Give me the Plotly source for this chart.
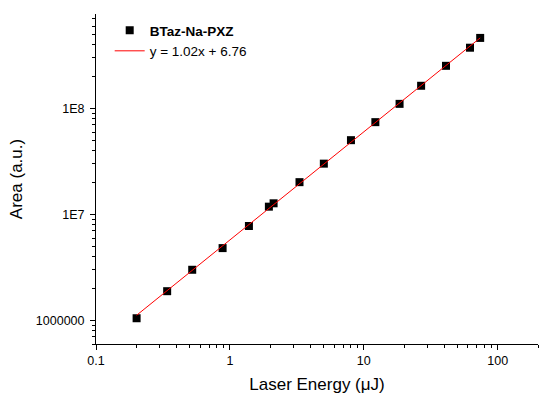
import plotly.graph_objects as go
import numpy as np

# Data
energy_uJ = [0.201, 0.34, 0.523, 0.882, 1.387, 1.955, 2.12, 3.31, 5.03, 8.02,
             12.2, 18.5, 26.8, 41.1, 62.1, 74.0]
area_au = [1.05e6, 1.89e6, 3.01e6, 4.82e6, 7.79e6, 1.186e7, 1.276e7, 2.02e7,
           3.02e7, 5.03e7, 7.44e7, 1.107e8, 1.64e8, 2.53e8, 3.75e8, 4.64e8]

series_name = "BTaz-Na-PXZ"
fit_slope = 1.02
fit_intercept = 6.76
fit_label = "y = 1.02x + 6.76"

x_tick_vals = [0.1, 1, 10, 100]
x_tick_text = ["0.1", "1", "10", "100"]
y_tick_vals = [1e6, 1e7, 1e8]
y_tick_text = ["1000000", "1E7", "1E8"]

# fit line in log-log space between first and last data points
fit_x = np.logspace(np.log10(min(energy_uJ)), np.log10(max(energy_uJ)), 50)
fit_y = 10 ** (fit_slope * np.log10(fit_x) + fit_intercept)

x_minor = [m * 10.0 ** d for d in range(-1, 3) for m in range(2, 10) if m * 10.0 ** d <= 200]
y_minor = [m * 10.0 ** d for d in range(5, 9) for m in range(2, 10) if 6e5 <= m * 10.0 ** d <= 8e8]

font_family = "Arial, Liberation Sans, sans-serif"

fig = go.Figure()
fig.add_trace(go.Scatter(
    x=energy_uJ, y=area_au, mode="markers",
    name="<b>" + series_name + "</b>",
    marker=dict(symbol="square", size=8, color="black"),
))
fig.add_trace(go.Scatter(
    x=fit_x, y=fit_y, mode="lines", name=fit_label,
    line=dict(color="red", width=1),
))

fig.update_layout(
    width=540, height=396,
    margin=dict(l=96, r=2, t=14, b=52),
    paper_bgcolor="white", plot_bgcolor="white",
    font=dict(family=font_family, color="black", size=12),
    showlegend=True,
    legend=dict(x=0.031, y=0.997, xanchor="left", yanchor="top",
                bgcolor="rgba(0,0,0,0)", borderwidth=0,
                font=dict(size=13.5, family=font_family)),
)
fig.update_xaxes(
    type="log", range=[-1, np.log10(200)],
    showline=True, linecolor="black", linewidth=1, mirror=False,
    showgrid=False, zeroline=False,
    tickmode="array", tickvals=x_tick_vals, ticktext=x_tick_text,
    ticks="outside", ticklen=5, tickwidth=1, tickcolor="black",
    tickfont=dict(size=12.5),
    minor=dict(tickmode="array", tickvals=x_minor, ticks="outside", ticklen=3,
               tickwidth=1, tickcolor="black", showgrid=False),
    title=dict(text="Laser Energy (\u03bcJ)", font=dict(size=17), standoff=11),
)
fig.update_yaxes(
    type="log", range=[np.log10(6.0e5), np.log10(7.8e8)],
    showline=True, linecolor="black", linewidth=1, mirror=False,
    showgrid=False, zeroline=False,
    tickmode="array", tickvals=y_tick_vals, ticktext=y_tick_text,
    ticks="outside", ticklen=5, tickwidth=1, tickcolor="black",
    tickfont=dict(size=12.5), ticklabelstandoff=3,
    minor=dict(tickmode="array", tickvals=y_minor, ticks="outside", ticklen=3,
               tickwidth=1, tickcolor="black", showgrid=False),
    title=dict(text="Area (a.u.)", font=dict(size=17), standoff=8),
)

fig.write_html("out.html")
